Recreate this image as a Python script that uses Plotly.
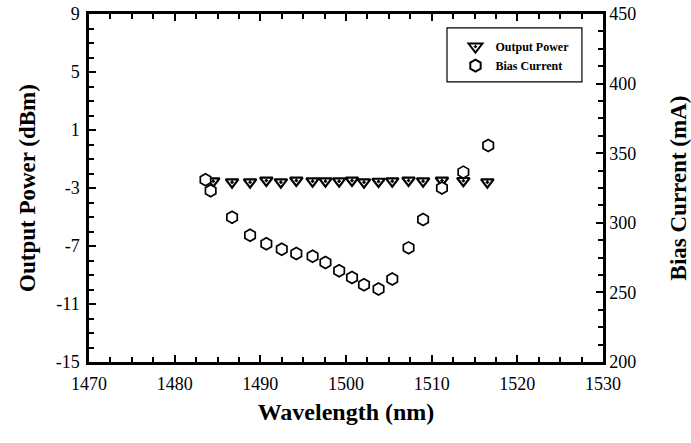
import plotly.graph_objects as go

# Data
wl_power = [1484.5, 1486.7, 1488.8, 1490.7, 1492.4, 1494.2, 1496.1, 1497.6, 1499.2,
            1500.7, 1502.1, 1503.8, 1505.4, 1507.3, 1509.0, 1511.2, 1513.7, 1516.5]
output_power = [-2.53, -2.60, -2.60, -2.48, -2.60, -2.48, -2.53, -2.53, -2.53,
                -2.48, -2.60, -2.55, -2.53, -2.48, -2.53, -2.48, -2.50, -2.60]

wl_bias = [1483.6, 1484.2, 1486.7, 1488.8, 1490.7, 1492.5, 1494.2, 1496.1, 1497.6, 1499.2,
           1500.7, 1502.1, 1503.8, 1505.4, 1507.3, 1509.0, 1511.2, 1513.7, 1516.6]
bias_current = [331, 323, 304, 291, 285, 281, 278, 276, 271.5, 265.6,
                260.7, 255.5, 252.4, 259.6, 282, 302.3, 325, 336.4, 355.6]

x_ticks = [1470, 1480, 1490, 1500, 1510, 1520, 1530]
y1_ticks = [-15, -11, -7, -3, 1, 5, 9]
y1_labels = ["-15", "-11", "-7", "-3", "1", "5", "9"]
y2_ticks = [200, 250, 300, 350, 400, 450]

FONT = "Liberation Serif"

fig = go.Figure()
fig.add_trace(go.Scatter(
    x=wl_power, y=output_power, mode="markers", name="Output Power",
    marker=dict(symbol="triangle-down-dot", size=11, color="white",
                line=dict(color="black", width=2.2)),
    yaxis="y"))
fig.add_trace(go.Scatter(
    x=wl_bias, y=bias_current, mode="markers", name="Bias Current",
    marker=dict(symbol="hexagon", size=12, color="white",
                line=dict(color="black", width=1.7)),
    yaxis="y2"))

axis_common = dict(showgrid=False, zeroline=False, showline=True, linecolor="black",
                   linewidth=2.5, ticks="inside", ticklen=7, tickwidth=2,
                   tickcolor="black", automargin=False,
                   tickfont=dict(family=FONT, size=18, color="black"))

fig.update_layout(
    width=691, height=443,
    margin=dict(l=89, r=88, t=14, b=81),
    paper_bgcolor="white", plot_bgcolor="white",
    showlegend=True,
    legend=dict(x=0.713, y=0.948, xanchor="left", yanchor="top",
                bgcolor="rgba(0,0,0,0)", borderwidth=0,
                font=dict(family=FONT, size=12, color="black", weight="bold"),
                itemsizing="constant", tracegroupgap=0),
    shapes=[dict(type="rect", xref="paper", yref="paper",
                 x0=0.6965, x1=0.959, y0=0.805, y1=0.96,
                 line=dict(color="black", width=1.2), fillcolor="rgba(0,0,0,0)",
                 layer="below")],
    xaxis=dict(range=[1470, 1530], tickvals=x_ticks, mirror="ticks", ticklabelstandoff=4,
               minor=dict(dtick=2.5, ticks="inside", ticklen=5, tickwidth=1.5, tickcolor="black"),
               title=dict(text="Wavelength (nm)", standoff=10,
                          font=dict(family=FONT, size=24, color="black", weight="bold")),
               **axis_common),
    yaxis=dict(range=[-15, 9], tickvals=y1_ticks, ticktext=y1_labels, ticklabelstandoff=3,
               minor=dict(dtick=1, ticks="inside", ticklen=5, tickwidth=1.5, tickcolor="black"),
               title=dict(text="Output Power (dBm)", standoff=14,
                          font=dict(family=FONT, size=23, color="black", weight="bold")),
               **axis_common),
    yaxis2=dict(range=[200, 450], tickvals=y2_ticks, overlaying="y", side="right",
                minor=dict(dtick=12.5, ticks="inside", ticklen=5, tickwidth=1.5, tickcolor="black"),
                title=dict(text="Bias Current (mA)", standoff=35,
                           font=dict(family=FONT, size=23, color="black", weight="bold")),
                **axis_common),
)

fig.write_html("out.html", config={"displayModeBar": False},
               post_script="document.body.style.margin='0px';")
